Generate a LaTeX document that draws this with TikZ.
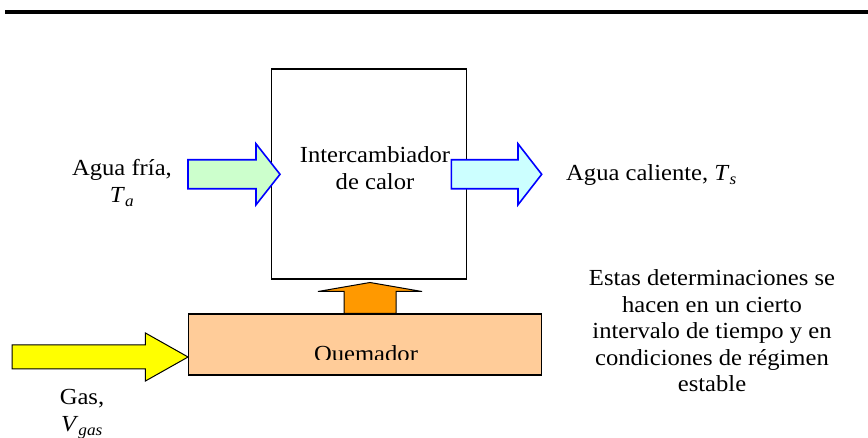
\documentclass[tikz,border=0pt]{standalone}
\usepackage{fontspec}
\setmainfont{Liberation Serif}[FakeStretch=1.07]
\usetikzlibrary{calc}

\definecolor{coldwater}{HTML}{CCFFCC}
\definecolor{hotwater}{HTML}{CCFFFF}
\definecolor{gasflow}{HTML}{FFFF00}
\definecolor{burner}{HTML}{FFCC99}
\definecolor{heat}{HTML}{FF9900}
\definecolor{flowline}{HTML}{0000FF}

% block arrow: style, tail, tip, shaft half width, head half width, head length
\newcommand{\blockarrow}[6]{%
	\draw[#1] ($(#2)+(0,#4)$) -- ($(#3)+(-#6,#4)$) -- ($(#3)+(-#6,#5)$) -- (#3)
	-- ($(#3)+(-#6,-#5)$) -- ($(#3)+(-#6,-#4)$) -- ($(#2)+(0,-#4)$) -- cycle;}

\begin{document}
\begin{tikzpicture}[x=1pt, y=-1pt,
	every node/.style={inner sep=0pt, font=\fontsize{23}{26.5}\selectfont}]
	\useasboundingbox (0,0) rectangle (868,438);
	\draw[line width=4pt] (5,12) -- (868,12);
	
	\node[draw, line width=1.6pt, minimum width=195pt, minimum height=210pt](HX) at (369,174.3){};
	\node[align=center](HXT) at (375,168){Intercambiador\\de calor};
	
	\node[draw, fill=burner, line width=1.3pt, minimum width=353pt, minimum height=61pt](QM) at (365.2,344.5){};
	\begin{scope}
		\clip (QM.north west) rectangle ($(QM.east)+(0,15.5)$);
		\node[anchor=base](QMT) at (366,362){Quemador};
	\end{scope}
	
	\node[align=center](CW) at (122,183){Agua fría,\\\textit{T}\textsubscript{\textit{a}}};
	\node[anchor=west](HW) at (566,175){Agua caliente, \textit{T}\textsubscript{\textit{s}}};
	\node[align=center](GAS) at (82,414){Gas,\\\textit{V}\textsubscript{\textit{gas}}};
	\node[align=center](NOTE) at (712,331){Estas determinaciones se\\hacen en un cierto\\intervalo de tiempo y en\\condiciones de régimen\\estable};
	
	\coordinate(CWA) at (188,174.3);
	\coordinate(CWB) at ($(HX.west)+(9.3,0)$);
	\coordinate(HWA) at ($(HX.east)+(-16,0)$);
	\coordinate(HWB) at (541.7,174.3);
	\coordinate(GA) at (12,357);
	\coordinate(GB) at (QM.west |- GA);
	\coordinate(OA) at ($(QM.north)+(4.8,0)$);
	\coordinate(OB) at ($(HX.south)+(1,2.4)$);
	
	\blockarrow{draw=flowline, fill=coldwater, line width=1.6pt, line join=miter}{CWA}{CWB}{14.5}{30.5}{24}
	\blockarrow{draw=flowline, fill=hotwater, line width=1.6pt, line join=miter}{HWA}{HWB}{14.5}{30.5}{23.7}
	\blockarrow{draw=black, fill=gasflow, line width=1pt, line join=miter}{GA}{GB}{12}{24}{42.6}
	
	\draw[fill=heat, line width=1pt] ($(OA)+(-26,0)$) -- ($(OB)+(-26,9)$) -- ($(OB)+(-52,9)$) -- (OB)
		-- ($(OB)+(52,9)$) -- ($(OB)+(26,9)$) -- ($(OA)+(26,0)$) -- cycle;
\end{tikzpicture}
\end{document}
